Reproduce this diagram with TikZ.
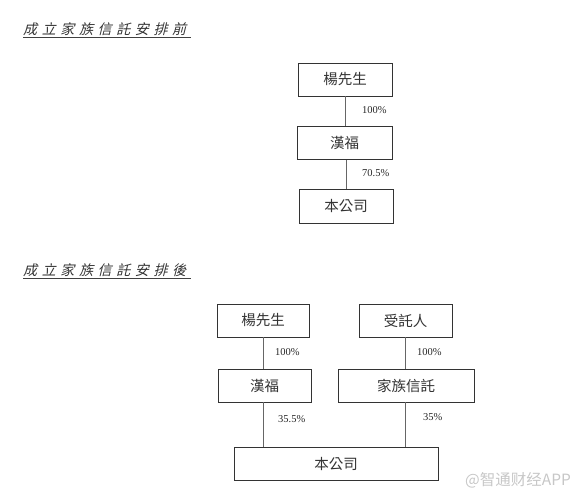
\documentclass[tikz,border=0pt]{standalone}
\usepackage{fontspec}
\setmainfont{Liberation Serif}
\newfontfamily\cjk{Noto Sans CJK TC}
\newfontfamily\cjkhead[FakeSlant=0.25,LetterSpace=33]{Noto Sans CJK TC}
\newfontfamily\cjkwm{Noto Sans CJK SC}
\begin{document}
\begin{tikzpicture}[x=1pt,y=-1pt,
  ent/.style={draw=black!80,line width=0.9pt,fill=white,inner sep=0pt,font=\cjk\fontsize{14.5}{14.5}\selectfont,text=black!80},
  link/.style={draw=black!60,line width=0.9pt},
  pct/.style={font=\fontsize{10.5}{11}\selectfont,text=black!85,inner sep=0pt,anchor=west},
  head/.style={font=\cjkhead\fontsize{14}{14}\selectfont,text=black!80,inner sep=0pt,anchor=west}]
\useasboundingbox (0,0) rectangle (583,500);
% headings
\node[head] (h1) at (23,29) {成立家族信託安排前};
\draw[black!75,line width=0.8pt] (h1.south west)++(0,2) coordinate (u1a) -- (191,0 |- u1a);
\node[head] (h2) at (23,270) {成立家族信託安排後};
\draw[black!75,line width=0.8pt] (h2.south west)++(0,2) coordinate (u2a) -- (191,0 |- u2a);
% before
\node[ent,minimum width=94pt,minimum height=33pt] (a1) at (345,79.5) {楊先生};
\node[ent,minimum width=95pt,minimum height=33pt] (a2) at (344.5,143) {漢福};
\node[ent,minimum width=94pt,minimum height=34pt] (a3) at (346,206) {本公司};
\draw[link] (a1.south -| 345,0) coordinate (c1) -- (c1 |- a2.north);
\draw[link] (a2.south -| 346,0) coordinate (c2) -- (c2 |- a3.north);
\node[pct] (p1) at (362,110) {100\%};
\node[pct] (p2) at (362,173) {70.5\%};
% after
\node[ent,minimum width=92pt,minimum height=33pt] (b1) at (263,320.5) {楊先生};
\node[ent,minimum width=93pt,minimum height=33pt] (b2) at (405.5,320.5) {受託人};
\node[ent,minimum width=93pt,minimum height=33pt] (b3) at (264.5,385.5) {漢福};
\node[ent,minimum width=136pt,minimum height=33pt] (b4) at (406,385.5) {家族信託};
\node[ent,minimum width=204pt,minimum height=33pt] (b5) at (336,463.5) {本公司};
\draw[link] (b1.south -| 263,0) coordinate (d1) -- (d1 |- b3.north);
\draw[link] (b2.south -| 405,0) coordinate (d2) -- (d2 |- b4.north);
\draw[link] (b3.south -| 263,0) coordinate (d3) -- (d3 |- b5.north);
\draw[link] (b4.south -| 405,0) coordinate (d4) -- (d4 |- b5.north);
\node[pct] (q1) at (275,352) {100\%};
\node[pct] (q2) at (417,352) {100\%};
\node[pct] (q3) at (278,419) {35.5\%};
\node[pct] (q4) at (423,417) {35\%};
% watermark
\node[font=\cjkwm\fontsize{15.5}{15.5}\selectfont,text=black!22,inner sep=0pt,anchor=west] (wm) at (465,480) {@智通财经APP};
\end{tikzpicture}
\end{document}
